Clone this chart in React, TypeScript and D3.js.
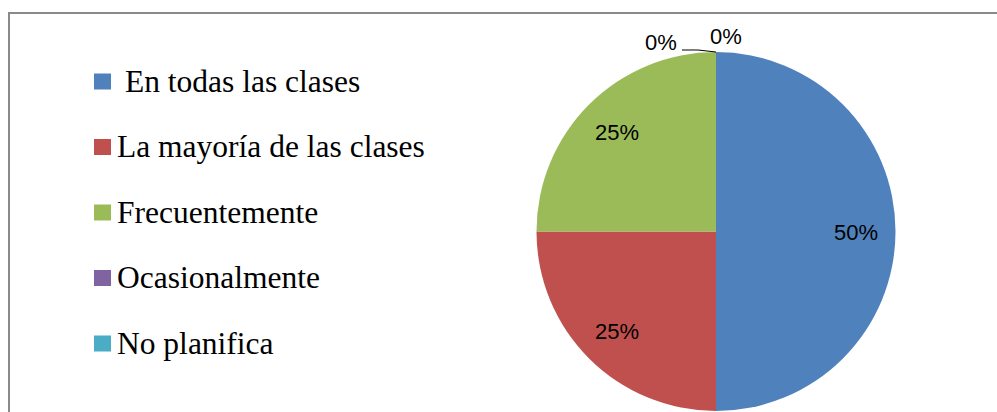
import React from "react";
import * as d3 from "d3";

const categories = [" En todas las clases", "La mayoría de las clases", "Frecuentemente", "Ocasionalmente", "No planifica"];
const values = [50, 25, 25, 0, 0];
const colors = ["#4F81BD", "#C0504D", "#9BBB59", "#8064A2", "#4BACC6"];

const W = 997;
const H = 412;

export default function App() {
  const cx = 716;
  const cy = 231.5;
  const r = 179.5;
  const pie = d3.pie<number>().sort(null).value((d) => d)(values);
  const arc = d3.arc<d3.PieArcDatum<number>>().innerRadius(0).outerRadius(r);
  const labelArc = d3.arc<d3.PieArcDatum<number>>().innerRadius(r * 0.78).outerRadius(r * 0.78);
  const total = d3.sum(values);
  const fmt = (v: number) => `${Math.round((v / total) * 100)}%`;

  const legendY = d3.scalePoint<string>().domain(categories).range([91.5, 353.5]);

  // zero slices sit at the top of the pie (angle 2π)
  const topX = cx + r * Math.sin(2 * Math.PI);
  const topY = cy - r * Math.cos(2 * Math.PI);

  return (
    <svg width={W} height={H} style={{ position: "absolute", left: 0, top: 0 }}>
      <rect x={9} y={13} width={W + 20} height={H + 20} fill="#fff" stroke="#8a8a8a" strokeWidth={2} />
      {categories.map((c, i) => (
        <rect key={"m" + i} x={94} y={(legendY(c) as number) - 18} width={17} height={16} fill={colors[i]} />
      ))}
      {categories.map((c, i) => {
        const lead = c.length - c.trimStart().length;
        return (
          <text key={"t" + i} x={117 + lead * 8} y={legendY(c) as number}
            style={{ fontFamily: "Liberation Serif", fontSize: 31.5 }}>{c.trimStart()}</text>
        );
      })}
      {pie.map((d, i) => (
        <path key={i} transform={`translate(${cx},${cy})`} d={arc(d) || ""} fill={colors[i]} />
      ))}
      {pie.map((d, i) => {
        if (d.value === 0) return null;
        const [lx, ly] = labelArc.centroid(d);
        return (
          <text key={"l" + i} x={cx + lx} y={cy + ly + 8} textAnchor="middle"
            style={{ fontFamily: "Liberation Sans", fontSize: 22 }}>
            {fmt(d.value)}
          </text>
        );
      })}
      {/* zero-value labels */}
      <path d={`M${topX - 34},${topY - 2} L${topX - 18},${topY - 2} L${topX},${topY}`} fill="none" stroke="#000" strokeWidth={1.2} />
      <text x={topX - 55} y={topY - 2} textAnchor="middle"
        style={{ fontFamily: "Liberation Sans", fontSize: 22 }}>{fmt(values[3])}</text>
      <text x={topX + 10} y={topY - 8} textAnchor="middle"
        style={{ fontFamily: "Liberation Sans", fontSize: 22 }}>{fmt(values[4])}</text>
    </svg>
  );
}
